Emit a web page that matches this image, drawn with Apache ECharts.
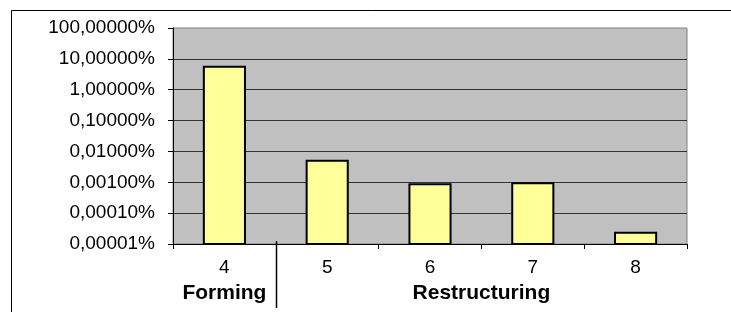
<!DOCTYPE html>
<html lang="en">
<head>
    <meta charset="UTF-8">
    <title>Phases</title>
    <style>
        html, body { margin: 0; padding: 0; background: #fff; }
    </style>
</head>
<body>
<div id="main" style="width: 731px; height: 312px;"></div>

<script src="https://cdn.jsdelivr.net/npm/echarts@6/dist/echarts.min.js"></script>
<script type="text/javascript">
    // data (values in percent)
    var categories = ['4', '5', '6', '7', '8'];
    var shares = [5.5, 0.0050, 0.00087, 0.00093, 0.000023];
    var groups = [
        {name: 'Forming', from: '4', to: '4'},
        {name: 'Restructuring', from: '5', to: '8'}
    ];
    var yMin = 0.00001, yMax = 100;

    var font = 'Liberation Sans, Arial, sans-serif';
    var myChart = echarts.init(document.getElementById('main'));

    // bars on a log axis start at 1 in echarts, so draw them from the axis minimum instead
    function renderBar(params, api) {
        var i = api.value(0);
        var top = api.coord([i, api.value(1)]);
        var bottom = api.coord([i, yMin]);
        var w = api.size([1, 0])[0] * 0.4;
        return {
            type: 'rect',
            shape: {x: top[0] - w / 2, y: top[1], width: w, height: bottom[1] - top[1]},
            style: {fill: '#ffff99', stroke: '#000', lineWidth: 2}
        };
    }

    var option = {
        animation: false,
        grid: {
            left: 173, right: 44, top: 28, bottom: 68,
            show: true,
            backgroundColor: '#c0c0c0',
            borderColor: '#808080',
            borderWidth: 1
        },
        xAxis: {
            type: 'category',
            data: categories,
            axisLine: {lineStyle: {color: '#000', width: 1}},
            axisTick: {show: true, length: 5, lineStyle: {color: '#000'}},
            axisLabel: {
                color: '#000', fontFamily: font, fontSize: 19, margin: 14
            },
            splitLine: {show: false}
        },
        yAxis: {
            type: 'log',
            logBase: 10,
            min: yMin,
            max: yMax,
            axisLine: {show: true, lineStyle: {color: '#000', width: 1}},
            axisTick: {show: true, length: 5, lineStyle: {color: '#000'}},
            axisLabel: {
                color: '#000', fontFamily: font, fontSize: 19, margin: 18,
                formatter: function (v) {
                    return v.toFixed(5).replace('.', ',') + '%';
                }
            },
            splitLine: {
                show: true,
                lineStyle: {
                    color: ['#000', '#333', '#333', '#333', '#333', '#333', '#333', '#a0a0a0'],
                    width: 1
                }
            }
        },
        series: [{
            type: 'custom',
            renderItem: renderBar,
            encode: {x: 0, y: 1},
            data: shares.map(function (v, i) { return [i, v]; }),
            z: 3
        }]
    };
    myChart.setOption(option);

    // group labels and separator placed from the axis scale
    function xOf(c) { return myChart.convertToPixel({xAxisIndex: 0}, c); }
    var axisY = myChart.convertToPixel({yAxisIndex: 0}, yMin);
    var step = xOf(categories[1]) - xOf(categories[0]);
    var elements = [
        // outer chart frame (runs off the picture on the right and bottom)
        {type: 'line', silent: true, shape: {x1: 11.5, y1: 10.5, x2: 740, y2: 10.5},
         style: {stroke: '#000', lineWidth: 1}},
        {type: 'line', silent: true, shape: {x1: 11.5, y1: 10.5, x2: 11.5, y2: 320},
         style: {stroke: '#000', lineWidth: 1}}
    ];
    groups.forEach(function (g, i) {
        var x0 = xOf(g.from) - step / 2, x1 = xOf(g.to) + step / 2;
        elements.push({
            type: 'text', silent: true,
            x: (x0 + x1) / 2, y: axisY + 49,
            style: {
                text: g.name, fill: '#000',
                font: 'bold 21px ' + font,
                align: 'center', verticalAlign: 'middle'
            }
        });
        if (i > 0) {
            elements.push({
                type: 'line', silent: true,
                shape: {x1: Math.round(x0) + 0.5, y1: axisY - 3, x2: Math.round(x0) + 0.5, y2: axisY + 64},
                style: {stroke: '#000', lineWidth: 1.5}
            });
        }
    });
    myChart.setOption({graphic: {elements: elements}});
</script>

</body>
</html>
